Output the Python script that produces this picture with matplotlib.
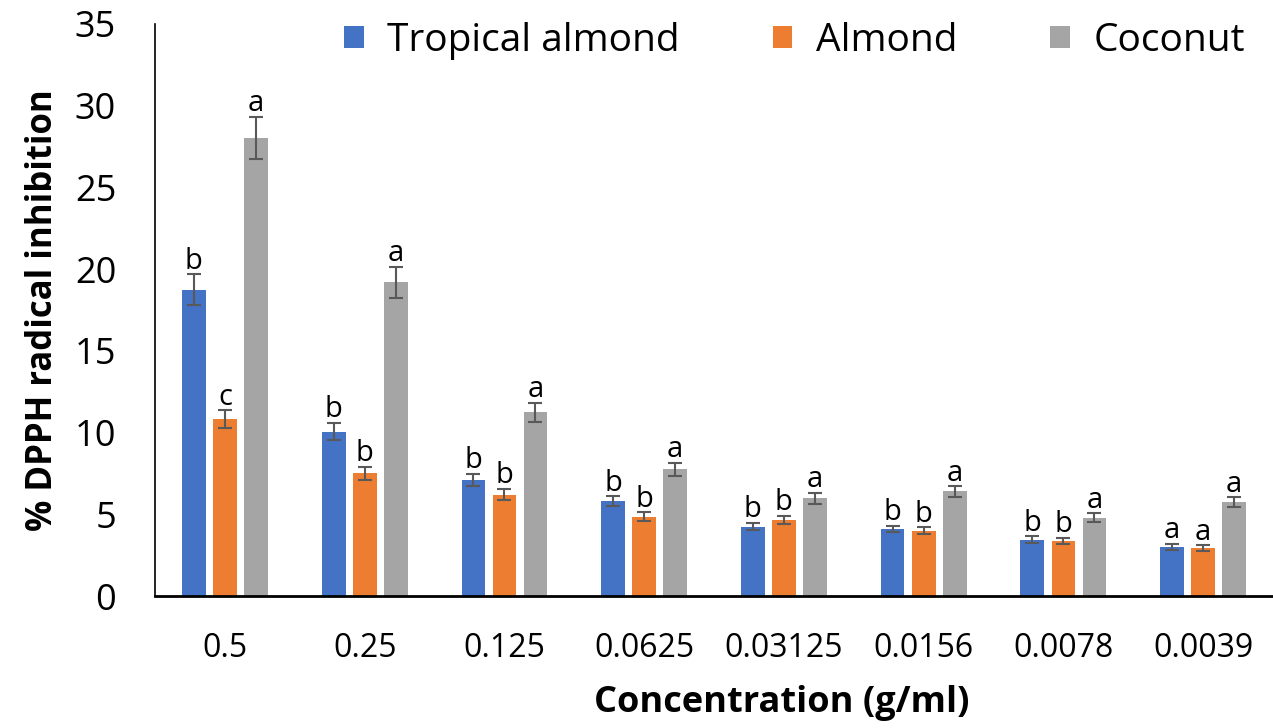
import numpy as np
import matplotlib; matplotlib.use('Agg')
import matplotlib.pyplot as plt

plt.rcParams.update({'font.family': ['Open Sans', 'DejaVu Sans']})

concentrations = ['0.5', '0.25', '0.125', '0.0625', '0.03125', '0.0156', '0.0078', '0.0039']
series = ['Tropical almond', 'Almond', 'Coconut']
colors = ['#4472C4', '#ED7D31', '#A5A5A5']

tropical = [18.74, 10.06, 7.10, 5.79, 4.25, 4.10, 3.45, 3.02]
almond   = [10.82, 7.51, 6.20, 4.86, 4.64, 4.00, 3.39, 2.94]
coconut  = [28.02, 19.19, 11.23, 7.76, 5.97, 6.40, 4.78, 5.73]

tropical_err = [0.94, 0.52, 0.36, 0.31, 0.23, 0.20, 0.20, 0.18]
almond_err   = [0.55, 0.39, 0.34, 0.26, 0.25, 0.20, 0.18, 0.16]
coconut_err  = [1.31, 0.95, 0.57, 0.40, 0.33, 0.32, 0.28, 0.31]

tropical_lbl = ['b', 'b', 'b', 'b', 'b', 'b', 'b', 'a']
almond_lbl   = ['c', 'b', 'b', 'b', 'b', 'b', 'b', 'a']
coconut_lbl  = ['a', 'a', 'a', 'a', 'a', 'a', 'a', 'a']

values = [tropical, almond, coconut]
errors = [tropical_err, almond_err, coconut_err]
letters = [tropical_lbl, almond_lbl, coconut_lbl]

fig = plt.figure(figsize=(12.73, 7.28), dpi=100)
ax = fig.add_axes([0.1218, 0.1813, 0.8782, 0.786])

x = np.arange(len(concentrations))
width = 0.17
step = 0.222
for i, (vals, errs, lbls) in enumerate(zip(values, errors, letters)):
    pos = x + (i - 1) * step
    ax.bar(pos, vals, width, color=colors[i], label=series[i], zorder=2)
    ax.errorbar(pos, vals, yerr=errs, fmt='none', ecolor='#595959',
                elinewidth=1.5, capsize=5, capthick=1.5, zorder=3)
    for xp, v, e, t in zip(pos, vals, errs, lbls):
        ax.annotate(t, (xp, v + e), xytext=(0, -1), textcoords='offset points',
                    ha='center', va='bottom', fontsize=21)

ax.set_xlim(-0.5, len(concentrations) - 0.5)
ax.set_ylim(0, 35)
ax.set_yticks(range(0, 36, 5))
ax.tick_params(axis='y', length=0, labelsize=26, pad=28)
ax.tick_params(axis='x', length=0, labelsize=23, pad=26)
ax.set_xticks(x)
ax.set_xticklabels(concentrations)
for s in ['top', 'right']:
    ax.spines[s].set_visible(False)
ax.spines['left'].set_linewidth(1.2)
ax.spines['bottom'].set_linewidth(2)

ax.set_xlabel('Concentration (g/ml)', fontsize=26, fontweight='bold')
ax.xaxis.set_label_coords(0.561, -0.155)
ax.set_ylabel('% DPPH radical inhibition', fontsize=25, fontweight='bold', labelpad=10)

ax.legend(loc='upper right', bbox_to_anchor=(1.006, 1.065), ncol=3, frameon=False,
          fontsize=28, handlelength=0.5, handleheight=0.5, handletextpad=0.6,
          columnspacing=2.4)

plt.savefig('out.png', dpi=100)
plt.close()
